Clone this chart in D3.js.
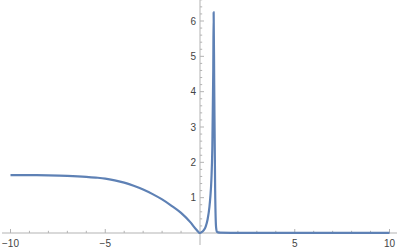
<!DOCTYPE html>
<html><head><meta charset="utf-8">
<script src="https://cdn.jsdelivr.net/npm/d3@7"></script>
<style>body{margin:0;background:#fff}svg{display:block}</style>
</head><body>
<svg id="c" width="399" height="250"></svg>
<script>
const xVals = [-10,-9,-8,-7,-6,-5.5,-5,-4.5,-4,-3.5,-3,-2.5,-2,-1.5,-1,-0.5,-0.2,0,0.1,0.2,0.3,0.4,0.5,0.55,0.6,0.65,0.7,0.72,0.75,0.8,0.85,0.9,1,2,4,6,8,10];
const yVals = [1.64,1.638,1.632,1.618,1.59,1.568,1.54,1.49,1.425,1.335,1.23,1.1,0.95,0.77,0.57,0.3,0.1,0.0,0.03,0.08,0.18,0.38,0.75,1.05,1.5,2.4,4.6,6.25,4.2,1.2,0.15,0.03,0.01,0.005,0.003,0.002,0.002,0.002];
const xTicks = [-10,-5,5,10];
const yTicks = [1,2,3,4,5,6];

const svg = d3.select("#c");
const x = d3.scaleLinear().domain([-10,10]).range([10.5,389.5]);
const y = d3.scaleLinear().domain([0,6]).range([233,21]);
const axisCol = "#b3b3b3", labCol = "#444";

svg.append("line").attr("x1",2).attr("x2",397).attr("y1",y(0)).attr("y2",y(0))
  .attr("stroke",axisCol).attr("stroke-width",1);
svg.append("line").attr("x1",x(0)).attr("x2",x(0)).attr("y1",0).attr("y2",245)
  .attr("stroke",axisCol).attr("stroke-width",1);

const xMinor = d3.range(-10,10.01,1).filter(v=>v!==0);
svg.selectAll(".xt").data(xMinor).enter().append("line")
  .attr("x1",d=>x(d)).attr("x2",d=>x(d))
  .attr("y1",y(0)).attr("y2",d=>y(0)-(d%5===0?4:2.2))
  .attr("stroke",axisCol);
svg.selectAll(".xl").data(xTicks).enter().append("text")
  .attr("x",d=>x(d)).attr("y",247).attr("text-anchor","middle")
  .attr("font-family","Liberation Sans, Arial, sans-serif").attr("font-size",10).attr("fill",labCol)
  .text(d=>d<0?"\u2212"+Math.abs(d):d);

const yMinor = d3.range(0.2,6.61,0.2);
svg.selectAll(".yt").data(yMinor).enter().append("line")
  .attr("x1",x(0)).attr("x2",d=>x(0)+(Math.abs(d-Math.round(d))<0.01?4:2.2))
  .attr("y1",d=>y(d)).attr("y2",d=>y(d))
  .attr("stroke",axisCol);
svg.selectAll(".yl").data(yTicks).enter().append("text")
  .attr("x",x(0)-4).attr("y",d=>y(d)+3.5).attr("text-anchor","end")
  .attr("font-family","Liberation Sans, Arial, sans-serif").attr("font-size",10).attr("fill",labCol)
  .text(d=>d);

const pts = xVals.map((v,i)=>[v,yVals[i]]);
svg.append("path").datum(pts)
  .attr("d", d3.line().x(d=>x(d[0])).y(d=>y(d[1])).curve(d3.curveMonotoneX))
  .attr("fill","none").attr("stroke","#5e81b5").attr("stroke-width",2.2)
  .attr("stroke-linejoin","round");
</script>
</body></html>
